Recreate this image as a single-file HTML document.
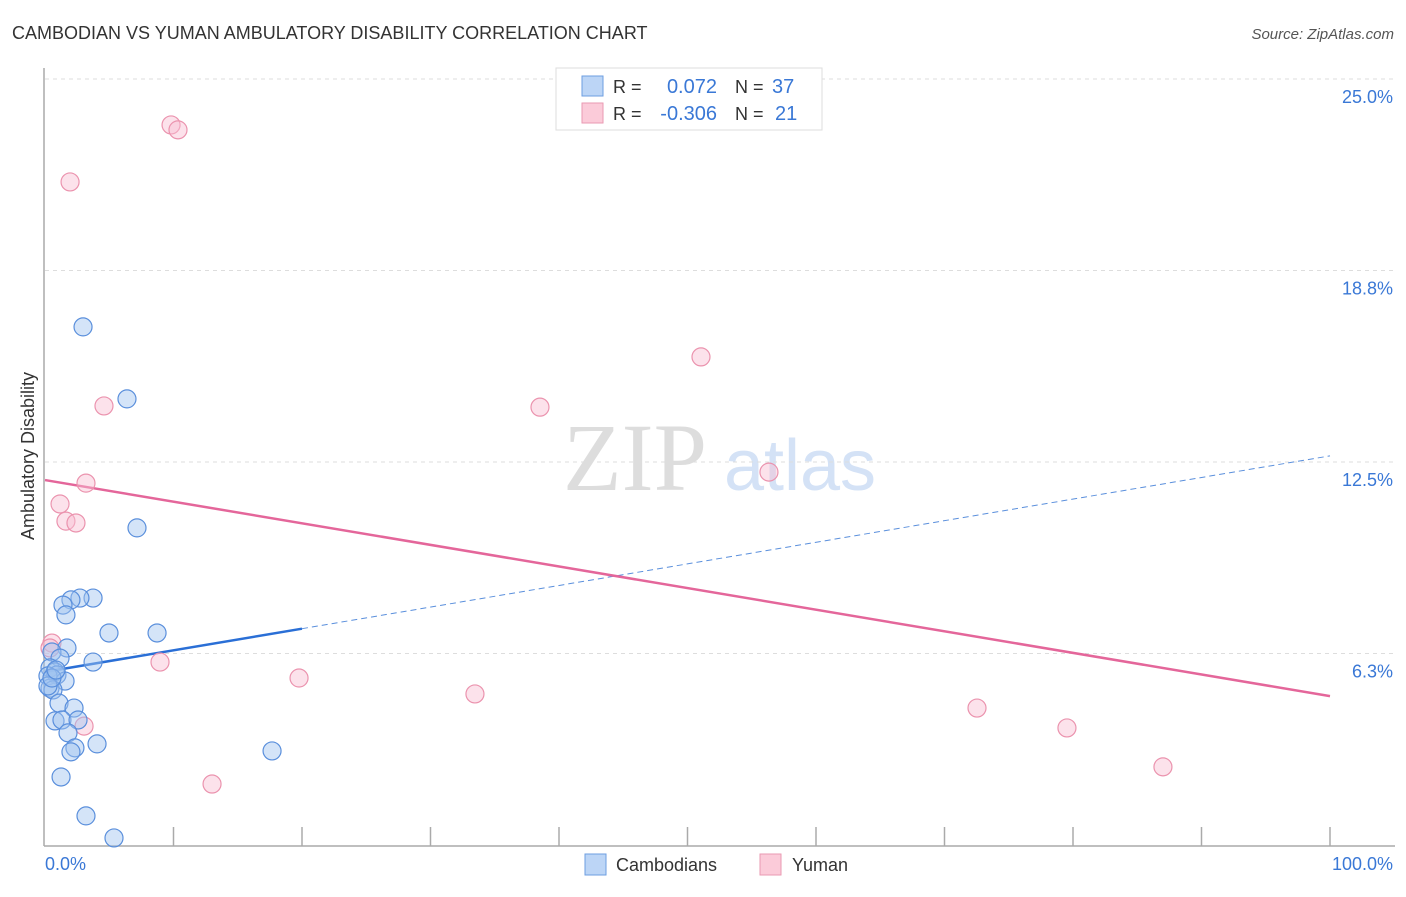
<!DOCTYPE html>
<html><head><meta charset="utf-8"><style>
body{margin:0;background:#fff;font-family:"Liberation Sans",sans-serif}
</style></head><body>
<svg id="c" width="1406" height="892" xmlns="http://www.w3.org/2000/svg" font-family="Liberation Sans, sans-serif">
<text x="12" y="39" font-size="18" fill="#333">CAMBODIAN VS YUMAN AMBULATORY DISABILITY CORRELATION CHART</text>
<text x="1394" y="39" font-size="15" fill="#555" font-style="italic" text-anchor="end">Source: ZipAtlas.com</text>
<g>
<text x="635" y="490" font-size="96" font-family="Liberation Serif, serif" fill="#ddd" text-anchor="middle">ZIP</text>
<text x="800" y="490" font-size="72" fill="#d4e2f6" text-anchor="middle">atlas</text>
</g>
<g id="grid"></g><g id="axes"></g><g id="lines"></g><g id="pts"></g>
<text transform="translate(34,456) rotate(-90)" font-size="18" fill="#333" text-anchor="middle">Ambulatory Disability</text>
<text x="45" y="870" font-size="18" fill="#3a78d6">0.0%</text>
<text x="1393" y="870" font-size="18" fill="#3a78d6" text-anchor="end">100.0%</text>
<g>
<rect x="585" y="854" width="21" height="21" fill="#bcd5f6" stroke="#6d9ee0"/>
<text x="616" y="871" font-size="18" fill="#333">Cambodians</text>
<rect x="760" y="854" width="21" height="21" fill="#fbcbd9" stroke="#ea9ab2"/>
<text x="792" y="871" font-size="18" fill="#333">Yuman</text>
</g>
<g>
<rect x="556" y="68" width="266" height="62" fill="#fff" stroke="#ddd"/>
<rect x="582" y="76" width="21" height="20" fill="#bcd5f6" stroke="#6d9ee0"/>
<rect x="582" y="103" width="21" height="20" fill="#fbcbd9" stroke="#ea9ab2"/>
<text x="613" y="93" font-size="18" fill="#333">R =</text>
<text x="717" y="93" font-size="20" fill="#3a78d6" text-anchor="end">0.072</text>
<text x="735" y="93" font-size="18" fill="#333">N =</text>
<text x="772" y="93" font-size="20" fill="#3a78d6">37</text>
<text x="613" y="120" font-size="18" fill="#333">R =</text>
<text x="717" y="120" font-size="20" fill="#3a78d6" text-anchor="end">-0.306</text>
<text x="735" y="120" font-size="18" fill="#333">N =</text>
<text x="775" y="120" font-size="20" fill="#3a78d6">21</text>
</g>
</svg>
<script>
const yTicks=[6.25,12.5,18.75,25];
const yTickLabels=["6.3%","12.5%","18.8%","25.0%"];
const blueX=[2.96,6.38,7.16,3.74,2.72,2.02,1.40,1.63,4.98,8.72,1.71,0.54,1.17,3.74,0.39,0.78,0.93,0.23,1.56,0.39,0.62,1.09,2.26,0.78,1.32,2.57,1.79,4.05,2.33,2.02,17.67,1.25,3.19,5.37,0.23,0.54,0.86];
const blueY=[16.91,14.56,10.35,8.06,8.06,8.00,7.83,7.51,6.92,6.92,6.43,6.30,6.10,5.97,5.78,5.65,5.55,5.52,5.35,5.12,5.06,4.63,4.47,4.05,4.08,4.08,3.66,3.30,3.17,3.04,3.07,2.22,0.95,0.23,5.19,5.45,5.71];
const pinkX=[9.81,10.35,1.95,51.05,4.59,38.52,3.19,56.34,1.17,1.63,2.41,0.54,0.39,8.95,19.77,33.46,72.53,3.04,79.53,13.00,87.00];
const pinkY=[23.50,23.34,21.64,15.93,14.33,14.29,11.81,12.17,11.13,10.57,10.51,6.59,6.43,5.97,5.45,4.93,4.47,3.88,3.82,1.99,2.55];
const blueTrend=[5.65,12.70];
const pinkTrend=[11.91,4.86];
const NS="http://www.w3.org/2000/svg";
const sx=v=>45+v*12.85, sy=v=>845-v*30.64;
function mk(tag,attrs,parent){const e=document.createElementNS(NS,tag);for(const k in attrs)e.setAttribute(k,attrs[k]);document.getElementById(parent).appendChild(e);return e;}
yTicks.forEach((t,i)=>{
 let l=mk('line',{x1:45,x2:1395,y1:sy(t),y2:sy(t),stroke:'#ddd','stroke-dasharray':'4,4'},'grid');
 
 
 let tx=mk('text',{x:1393,y:sy(t)+24,'font-size':18,fill:'#3a78d6','text-anchor':'end'},'grid');
 tx.textContent=yTickLabels[i];
 
 
});
let ya=mk('line',{x1:44,x2:44,y1:68,y2:846,stroke:'#aaa','stroke-width':1.5},'axes');


let xa=mk('line',{x1:44,x2:1395,y1:846,y2:846,stroke:'#aaa','stroke-width':1.5},'axes');


for(let i=1;i<=10;i++){let t=mk('line',{x1:sx(i*10),x2:sx(i*10),y1:827,y2:846,stroke:'#aaa','stroke-width':1.5},'axes');
 
 }
const bAt=x=>blueTrend[0]+(blueTrend[1]-blueTrend[0])*x/100;
let b1=mk('line',{x1:sx(0),y1:sy(bAt(0)),x2:sx(20),y2:sy(bAt(20)),stroke:'#2a6fd6','stroke-width':2.5},'lines');


let b2=mk('line',{x1:sx(20),y1:sy(bAt(20)),x2:sx(100),y2:sy(bAt(100)),stroke:'#5a8fdc','stroke-width':1,'stroke-dasharray':'6,4'},'lines');


let p1=mk('line',{x1:sx(0),y1:sy(pinkTrend[0]),x2:sx(100),y2:sy(pinkTrend[1]),stroke:'#e4669a','stroke-width':2.5},'lines');


pinkX.forEach((x,i)=>{let c=mk('circle',{cx:sx(x),cy:sy(pinkY[i]),r:9,fill:'rgba(248,190,210,0.45)',stroke:'#eb93ae','stroke-width':1.2},'pts');
 
 });
blueX.forEach((x,i)=>{let c=mk('circle',{cx:sx(x),cy:sy(blueY[i]),r:9,fill:'rgba(160,196,240,0.45)',stroke:'#5a8fdc','stroke-width':1.2},'pts');
 
 });
</script>
</body></html>
